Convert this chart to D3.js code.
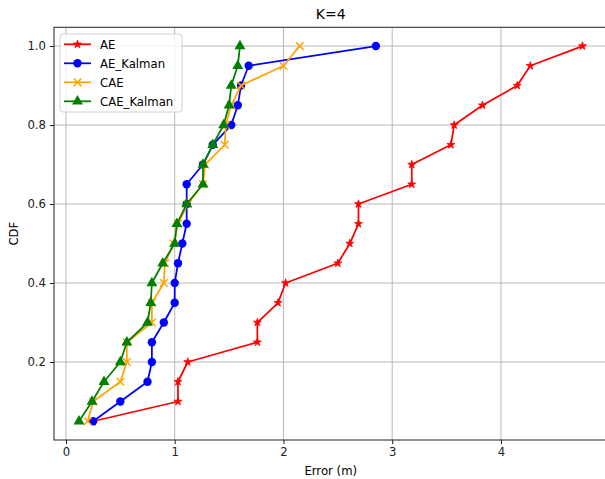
<!DOCTYPE html>
<html lang="en">
<head>
<meta charset="utf-8">
<style>
    body { margin: 0; background: #fff; }
    svg { display: block; font-family: "DejaVu Sans", sans-serif; }
</style>
<script src="https://d3js.org/d3.v7.min.js"></script>
</head>
<body>
<script>
    // CDF levels shared by all four curves
    var cdf = [0.05, 0.10, 0.15, 0.20, 0.25, 0.30, 0.35, 0.40, 0.45, 0.50,
               0.55, 0.60, 0.65, 0.70, 0.75, 0.80, 0.85, 0.90, 0.95, 1.00];

    var errAE       = [0.25, 1.03, 1.03, 1.12, 1.76, 1.76, 1.95, 2.02, 2.50, 2.61,
                       2.69, 2.69, 3.18, 3.18, 3.54, 3.57, 3.83, 4.15, 4.27, 4.75];
    var errAEKalman = [0.25, 0.50, 0.75, 0.79, 0.79, 0.90, 1.00, 1.00, 1.03, 1.07,
                       1.11, 1.11, 1.11, 1.26, 1.35, 1.52, 1.58, 1.61, 1.68, 2.85];
    var errCAE      = [0.20, 0.25, 0.50, 0.56, 0.56, 0.79, 0.79, 0.90, 0.91, 0.99,
                       1.03, 1.12, 1.26, 1.28, 1.46, 1.47, 1.52, 1.61, 2.00, 2.15];
    var errCAEKalman= [0.12, 0.24, 0.35, 0.50, 0.56, 0.75, 0.78, 0.79, 0.89, 1.00,
                       1.02, 1.11, 1.26, 1.26, 1.35, 1.45, 1.50, 1.52, 1.58, 1.60];

    var seriesNames = ["AE", "AE_Kalman", "CAE", "CAE_Kalman"];
    var xTicks = [0, 1, 2, 3, 4];
    var yTicks = [0.2, 0.4, 0.6, 0.8, 1.0];

    var width = 605, height = 479;
    var padL = 54, padR = 607.5, padT = 27.3, padB = 440;

    var series = [
        {name: seriesNames[0], vals: errAE,        color: "#ff0000", marker: "star"},
        {name: seriesNames[1], vals: errAEKalman,  color: "#0000ff", marker: "circle"},
        {name: seriesNames[2], vals: errCAE,       color: "#ffa500", marker: "x"},
        {name: seriesNames[3], vals: errCAEKalman, color: "#008000", marker: "triangle"}
    ];

    var svg = d3.select("body").append("svg")
        .attr("width", width)
        .attr("height", height);

    var x = d3.scaleLinear().domain([-0.11, 4.98]).range([padL, padR]);
    var y = d3.scaleLinear().domain([0.0025, 1.0475]).range([padB, padT]);

    // grid
    var grid = svg.append("g");
    grid.selectAll(".gx").data(xTicks).enter().append("line")
        .attr("x1", d => x(d)).attr("x2", d => x(d))
        .attr("y1", padT).attr("y2", padB)
        .attr("stroke", "#b0b0b0").attr("stroke-width", 0.9);
    grid.selectAll(".gy").data(yTicks).enter().append("line")
        .attr("x1", padL).attr("x2", padR)
        .attr("y1", d => y(d)).attr("y2", d => y(d))
        .attr("stroke", "#b0b0b0").attr("stroke-width", 0.9);

    // axes
    var xAxis = d3.axisBottom(x).tickValues(xTicks).tickFormat(d3.format("d"))
        .tickSize(4).tickPadding(4);
    var yAxis = d3.axisLeft(y).tickValues(yTicks).tickFormat(d3.format(".1f"))
        .tickSize(4).tickPadding(4);

    function styleAxis(g) {
        g.select(".domain").remove();
        g.attr("font-family", "DejaVu Sans, sans-serif").attr("font-size", 11.7);
        g.selectAll(".tick line").attr("stroke", "#000").attr("stroke-width", 0.9);
        g.selectAll(".tick text").attr("fill", "#222");
    }

    svg.append("g").attr("transform", "translate(0," + padB + ")").call(xAxis).call(styleAxis);
    svg.append("g").attr("transform", "translate(" + padL + ",0)").call(yAxis).call(styleAxis);

    // spines
    svg.append("rect")
        .attr("x", padL).attr("y", padT)
        .attr("width", padR - padL).attr("height", padB - padT)
        .attr("fill", "none").attr("stroke", "#333").attr("stroke-width", 1.1);

    var line = d3.line()
        .x(d => x(d[0]))
        .y(d => y(d[1]));

    function drawMarker(g, kind, color) {
        if (kind === "circle") {
            g.append("circle").attr("r", 4.2).attr("fill", color);
        } else if (kind === "star") {
            g.append("path").attr("d", d3.symbol(d3.symbolStar, 20)())
                .attr("fill", color).attr("stroke", color).attr("stroke-width", 0.8);
        } else if (kind === "triangle") {
            g.append("path").attr("d", d3.symbol(d3.symbolTriangle, 52)())
                .attr("fill", color);
        } else if (kind === "x") {
            var s = 3.8;
            g.append("path").attr("d", "M" + (-s) + "," + (-s) + "L" + s + "," + s +
                                       "M" + (-s) + "," + s + "L" + s + "," + (-s))
                .attr("stroke", color).attr("stroke-width", 1.5).attr("fill", "none");
        }
    }

    series.forEach(function(s) {
        var pts = s.vals.map((v, i) => [v, cdf[i]]);
        var g = svg.append("g");
        g.append("path").datum(pts)
            .attr("d", line)
            .attr("fill", "none")
            .attr("stroke", s.color)
            .attr("stroke-width", 1.75)
            .attr("stroke-linejoin", "round");
        pts.forEach(function(p) {
            var m = g.append("g").attr("transform", "translate(" + x(p[0]) + "," + y(p[1]) + ")");
            drawMarker(m, s.marker, s.color);
        });
    });

    // title and labels
    svg.append("text")
        .attr("x", (padL + padR) / 2).attr("y", 19)
        .attr("text-anchor", "middle")
        .style("font-size", "14px")
        .text("K=4");

    svg.append("text")
        .attr("x", (padL + padR) / 2).attr("y", 475)
        .attr("text-anchor", "middle")
        .style("font-size", "11.7px")
        .text("Error (m)");

    svg.append("text")
        .attr("transform", "translate(18," + ((padT + padB) / 2) + ") rotate(-90)")
        .attr("text-anchor", "middle")
        .style("font-size", "11.7px")
        .text("CDF");

    // legend
    var leg = svg.append("g");
    leg.append("rect")
        .attr("x", 60).attr("y", 34)
        .attr("width", 122).attr("height", 78)
        .attr("rx", 3)
        .attr("fill", "#fff").attr("fill-opacity", 0.8)
        .attr("stroke", "#d0d0d0").attr("stroke-width", 1);

    series.forEach(function(s, i) {
        var ly = 44.3 + i * 19;
        leg.append("line")
            .attr("x1", 64).attr("x2", 91)
            .attr("y1", ly).attr("y2", ly)
            .attr("stroke", s.color).attr("stroke-width", 1.75);
        var m = leg.append("g").attr("transform", "translate(77.5," + ly + ")");
        drawMarker(m, s.marker, s.color);
        leg.append("text")
            .attr("x", 100).attr("y", ly + 4.2)
            .style("font-size", "11.7px")
            .text(s.name);
    });
</script>
</body>
</html>
